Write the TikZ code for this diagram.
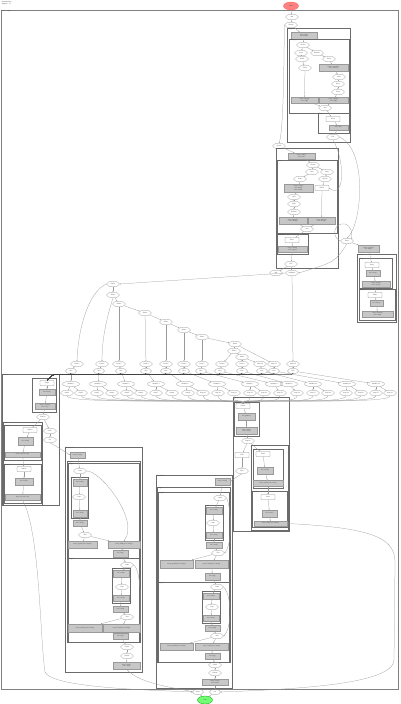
\documentclass[tikz,border=0pt]{standalone}
\usepackage{fontspec}
\setmainfont{Liberation Sans}
\usetikzlibrary{arrows.meta,shapes.geometric}
\newcommand\myGR[6]{\node[gr, minimum width={(#4-#2)*1pt}, minimum height={(#5-#3)*1pt}] (#1) at ({(#2+#4)/2},{(#3+#5)/2}) {#6};}
\newcommand\myBX[6]{\draw[cb] (#2,#3) rectangle (#4,#5); \node[blbl] (#1) at (#2,#3) {#6};}
\begin{document}
\begin{tikzpicture}[x=1pt,y=-1pt,
 base/.style={font=\fontsize{1.6}{1.8}\selectfont, text=black!70, inner sep=0pt, align=center},
 st/.style={base, ellipse, draw=black!45, line width=0.25pt, minimum width=13pt, minimum height=5.5pt},
 wst/.style={st, minimum width=17pt},
 rs/.style={base, rectangle, rounded corners=0.6pt, draw=black!45, line width=0.25pt, minimum width=14pt, minimum height=5pt},
 gr/.style={base, rectangle, fill=black!22, draw=black!40, line width=0.25pt},
 cb/.style={draw=black!58, line width=0.5pt},
 frame/.style={draw=black!50, line width=0.7pt},
 blbl/.style={base, anchor=north west, inner sep=0.6pt, align=left},
 ed/.style={draw=black!40, line width=0.25pt, -{Stealth[length=1.2pt,width=1pt]}},
]
\useasboundingbox (0,0) rectangle (400,704);
\fill[white] (0,0) rectangle (400,704);
\node[blbl] (ttl) at (1,0.5) {StateMachine\\diagram\quad v1};
\draw[frame] (1,10) rectangle (398,689);
\node[blbl] (outl) at (1,10) {Main\quad region};
% ---------- top
\node[base, ellipse, fill=red!50, draw=red!65, line width=0.3pt, minimum width=15pt, minimum height=8pt] (start) at (291,6) {Initial};
\node[st] (a1) at (292,17) {Idle};
\node[st] (a2) at (291,25) {Ready};
\myBX{B1}{287}{28}{350}{142}{Setup}
\myGR{g1}{291}{32}{317}{39}{entry / init()\\do / load()}
\myBX{B1i}{289}{39}{349}{113}{Config}
\node[st] (b1) at (303,45) {Choice};
\node[st] (b2) at (301,53) {Local};
\node[st] (b3) at (317,53) {Remote};
\node[st] (b4) at (302,59) {Read};
\node[st] (b5) at (329,59) {Fetch};
\node[st] (b6) at (305,68) {Parse};
\myGR{g2}{319}{64}{348}{71}{entry / connect()\\exit / close()}
\node[st] (b7) at (339,77) {Wait};
\node[st] (b8) at (338,84) {Recv};
\node[st] (b9) at (338,92) {Store};
\myGR{g3}{291}{97}{318}{103}{entry / apply()\\exit / log()}
\myGR{g4}{319}{97}{348}{103}{entry / apply()\\exit / log()}
\node[st] (b10) at (325,108) {Join};
\myBX{B1j}{318}{113}{349}{133}{Final}
\node[rs] (b11) at (333,119) {Done};
\myGR{g5}{329}{125}{348}{130}{exit / ok()}
\node[st] (b12) at (333,137) {Exit};
\node[st] (c0) at (279,146) {Check};
\draw[ed] (start) -- (a1);
\draw[ed] (a1) -- (a2);
\draw[ed] (a2) -- (g1);
\draw[ed] (g1) -- (b1);
\draw[ed] (b1) -- (b2);
\draw[ed] (b1) -- (b3);
\draw[ed] (b2) -- (b4);
\draw[ed] (b3) -- (b5);
\draw[ed] (b4) -- (b6);
\draw[ed] (b5) -- (g2);
\draw[ed] (g2) -- (b7);
\draw[ed] (b7) -- (b8);
\draw[ed] (b8) -- (b9);
\draw[ed] (b6) -- (g3);
\draw[ed] (b9) -- (g4);
\draw[ed] (g3) -- (b10);
\draw[ed] (g4) -- (b10);
\draw[ed] (b10) -- (b11);
\draw[ed] (b11) -- (g5);
\draw[ed] (g5) -- (b12);
\draw[ed] (a2.west) .. controls (284,45) and (284,130) .. (c0.north);
% ---------- second block
\myBX{B2}{276}{148}{338}{268}{Process}
\myGR{g6}{288}{153}{315}{159}{entry / start()\\do / run()}
\myBX{B2i}{277}{160}{337}{233}{Work}
\node[st] (d1) at (313,165) {Choice};
\node[st] (d2) at (312,172) {Fast};
\node[st] (d3) at (327,172) {Slow};
\node[st] (d4) at (300,179) {Scan};
\node[st] (d5) at (325,179) {Queue};
\myGR{g7}{284}{184}{313}{192}{entry / scan()\\do / step()\\exit / stop()}
\node[rs] (d6) at (322,188) {Batch};
\node[st] (d7) at (294,197) {Split};
\node[st] (d8) at (294,204) {Map};
\node[st] (d9) at (294,212) {Reduce};
\myGR{g8}{279}{217}{307}{224}{entry / merge()\\exit / flush()}
\myGR{g9}{308}{217}{335}{224}{entry / merge()\\exit / flush()}
\node[st] (d10) at (307,229) {Join};
\myBX{B2j}{277}{234}{308}{254}{Commit}
\node[rs] (d11) at (292,240) {Save};
\myGR{g10}{278}{246}{307}{252}{entry / write()\\exit / sync()}
\node[st] (d12) at (291,264) {Exit};
\node[st] (e1) at (347,241) {Error};
\myGR{g11}{358}{245}{379}{252}{entry / report()\\do / wait()}
\myBX{B3}{357}{254}{396}{322}{Recover}
\myBX{B3a}{359}{258}{392}{288}{Retry}
\node[rs] (f1) at (372,265) {Retry};
\myGR{g12}{366}{270}{380}{276}{do / retry()}
\myGR{g13}{362}{281}{390}{287}{entry / reset()\\exit / clear()}
\myBX{B3b}{359}{289}{395}{320}{Abort}
\node[rs] (f2) at (375,295) {Abort};
\myGR{g14}{370}{300}{383}{306}{do / abort()}
\myGR{g15}{362}{311}{393}{317}{entry / dump()\\exit / halt()}
\draw[ed] (c0) -- (g6);
\draw[ed] (g6) -- (d1);
\draw[ed] (d1) -- (d2);
\draw[ed] (d1) -- (d3);
\draw[ed] (d2) -- (d4);
\draw[ed] (d3) -- (d5);
\draw[ed] (d4) -- (g7);
\draw[ed] (d5) -- (d6);
\draw[ed] (g7) -- (d7);
\draw[ed] (d7) -- (d8);
\draw[ed] (d8) -- (d9);
\draw[ed] (d9) -- (g8);
\draw[ed] (d6) -- (g9);
\draw[ed] (g8) -- (d10);
\draw[ed] (g9) -- (d10);
\draw[ed] (d10) -- (d11);
\draw[ed] (d11) -- (g10);
\draw[ed] (g10) -- (d12);
\draw[ed] (b12.east) .. controls (368,150) and (362,225) .. (e1.north);
\draw[ed] (b12.south) .. controls (345,160) and (345,200) .. (d6.east);
\draw[ed] (e1.west) .. controls (330,236) and (335,222) .. (345,224) .. controls (352,226) and (352,234) .. (e1.north east);
\draw[ed] (e1) -- (g11);
\draw[ed] (g11) -- (f1);
\draw[ed] (f1) -- (g12);
\draw[ed] (g12) -- (g13);
\draw[ed] (g13) -- (f2);
\draw[ed] (f2) -- (g14);
\draw[ed] (g14) -- (g15);
% ---------- tree
\node[st] (h0) at (276,273) {Idle};
\node[st] (h1) at (292,273) {Dispatch};
\draw[ed] (d12) -- (h0);
\draw[ed] (d12) -- (h1);
\draw[ed] (e1.south) .. controls (335,262) .. (h1.east);
\node[st] (t1) at (113,284) {Route};
\node[st] (t2) at (113,295) {Select};
\node[st] (t3) at (119,304) {Select};
\node[st] (t4) at (145,313) {Select};
\node[st] (t5) at (166,322) {Select};
\node[st] (t6) at (184,330) {Select};
\node[st] (t7) at (202,337) {Select};
\node[st] (t8) at (235,344) {Select};
\node[st] (t9) at (234,351) {Select};
\node[st] (t10) at (242,357) {Select};
\draw[ed] (h1.west) -- (t1.east);
\draw[ed] (t1) -- (t2);
\draw[ed] (t2) -- (t3);
\draw[ed] (t3) -- (t4);
\draw[ed] (t4) -- (t5);
\draw[ed] (t5) -- (t6);
\draw[ed] (t6) -- (t7);
\draw[ed] (t7) -- (t8);
\draw[ed] (t8) -- (t9);
\draw[ed] (t9) -- (t10);
\foreach \x [count=\i] in {77,102,119,146,166,184,202,222,242,260,274,293}
  \node[st] (ra\i) at (\x,364) {Case \i};
\foreach \x [count=\i] in {71,99,121,146,166,184,201,220,242,262,274,293}
  \node[st, minimum width=11pt] (rb\i) at (\x,371) {Run};
\foreach \x [count=\i] in {71,98,126,156,185,217,250,274,289,313,347,376}
  \node[wst] (rc\i) at (\x,384) {Handler \i};
\foreach \x [count=\i] in {67,81,97,112,127,141,156,172,188,203,218,234,250,264,280,297,313,328,346,361,376,390}
  \node[st] (rd\i) at (\x,393) {Step \i};
\draw[ed] (t1.west) .. controls (88,292) and (78,330) .. (ra1.north);
\draw[ed] (t2.south) .. controls (106,320) and (102,340) .. (ra2.north);
\draw[ed] (t3) -- (ra3);
\draw[ed] (t4) -- (ra4);
\draw[ed] (t5) -- (ra5);
\draw[ed] (t6) -- (ra6);
\draw[ed] (t7) -- (ra7);
\draw[ed] (t9) -- (ra8);
\draw[ed] (t10) -- (ra9);
\draw[ed] (t10) -- (ra10);
\draw[ed] (t8) -- (ra11);
\draw[ed] (h1) -- (ra12);
\foreach \i in {1,...,12} \draw[ed] (ra\i) -- (rb\i);
\foreach \i in {1,...,12} \draw[ed] (rb\i) -- (rc\i);
\foreach \a/\b in {1/1,1/2,2/3,2/4,3/5,3/6,4/7,4/8,5/9,5/10,6/11,6/12,7/13,7/14,8/15,9/16,10/17,10/18,11/19,11/20,12/21,12/22}
  \draw[ed] (rc\a) -- (rd\b);
% ---------- left box
\myBX{L}{2}{374}{59}{505}{Service}
\myBX{L1}{32}{378}{56}{412}{Init}
\node[rs] (k1) at (47,383) {Begin};
\myGR{g16}{39}{389}{55}{395}{do / boot()}
\myGR{g17}{35}{403}{55}{409}{entry / check()\\exit / ok()}
\node[st] (k2) at (43,417) {Branch};
\myBX{L2}{3}{422}{42}{505}{Modes}
\myBX{L2a}{4}{425}{41}{460}{Mode A}
\node[rs] (k3) at (30,430) {Start A};
\myGR{g18}{18}{437}{33}{445}{do / runA()}
\myGR{g19}{5}{452}{40}{457}{entry / a() exit / b()}
\myBX{L2b}{4}{464}{41}{503}{Mode B}
\node[rs] (k4) at (24,469) {Start B};
\myGR{g20}{15}{478}{33}{485}{do / runB()}
\myGR{g21}{5}{494}{40}{500}{entry / c() exit / d()}
\node[st] (k5) at (50,431) {Next};
\node[st] (k6) at (50,440) {Go};
\foreach \i in {1,...,12}
  \draw[ed, draw=black!75, line width=0.35pt, rounded corners=1.5pt] (rb\i.south) |- (53,374.6) -- (k1.north);
\draw[ed] (k1) -- (g16);
\draw[ed] (g16) -- (g17);
\draw[ed] (g17) -- (k2);
\draw[ed] (k2) -- (k3);
\draw[ed] (k2) -- (k5);
\draw[ed] (k5) -- (k6);
\draw[ed] (k3) -- (g18);
\draw[ed] (g18) -- (g19);
\draw[ed] (g19) -- (k4);
\draw[ed] (k4) -- (g20);
\draw[ed] (g20) -- (g21);
% ---------- right-middle box
\myBX{R}{233}{397}{289}{531}{Output}
\myBX{R1}{234}{402}{259}{436}{Collect}
\node[rs] (m1) at (243,406) {Gather};
\myGR{g22}{238}{413}{255}{420}{do / gather()}
\myGR{g23}{236}{427}{257}{434}{entry / sort()\\exit / emit()}
\node[st] (m2) at (248,441) {Branch};
\node[rs] (m3) at (242,455) {Skip};
\node[st] (m4) at (242,471) {Pass};
\myBX{R2}{251}{445}{288}{530}{Emit}
\myBX{R2a}{253}{449}{283}{488}{Emit A}
\node[rs] (m5) at (263,454) {Send};
\myGR{g24}{257}{467}{273}{474}{do / send()}
\myGR{g25}{253}{480}{283}{486}{entry / pack() exit / ack()}
\myBX{R2b}{252}{491}{287}{527}{Emit B}
\node[rs] (m6) at (268,497) {Store};
\myGR{g26}{262}{510}{277}{517}{do / store()}
\myGR{g27}{254}{521}{287}{526}{entry / file() exit / done()}
\foreach \i in {1,...,22}
  \draw[ed] (rd\i.south) .. controls +(0,9) and +(0,-5) .. (m1.north);
\draw[ed] (m1) -- (g22);
\draw[ed] (g22) -- (g23);
\draw[ed] (g23) -- (m2);
\draw[ed] (m2) -- (m3);
\draw[ed] (m2) -- (m5);
\draw[ed] (m3) -- (m4);
\draw[ed] (m5) -- (g24);
\draw[ed] (g24) -- (g25);
\draw[ed] (g25) -- (m6);
\draw[ed] (m6) -- (g26);
\draw[ed] (g26) -- (g27);
% ---------- middle box 1
\myBX{M1}{65}{447}{142}{672}{Pipeline A}
\myGR{g28}{70}{452}{85}{458}{entry / prep()}
\myBX{M1i}{67}{461}{140}{642}{Stages}
\myBX{M1a}{68}{463}{139}{558}{Stage 1}
\node[st] (p1) at (80,471) {Load};
\myBX{M1ab}{71}{477}{88}{518}{Inner}
\myGR{g29}{73}{479}{87}{486}{do / read()}
\node[st] (p2) at (79,497) {Loop};
\myGR{g30}{73}{510}{87}{517}{do / next()}
\myGR{g31}{73}{520}{87}{526}{exit / end()}
\node[st] (p3) at (85,535) {Test};
\myGR{g32}{68}{541}{97}{548}{entry / good() exit / keep()}
\myGR{g33}{108}{541}{140}{548}{entry / bad() exit / drop()}
\myGR{g34}{113}{550}{128}{557}{do / log()}
\myBX{M1b}{68}{558}{139}{642}{Stage 2}
\node[st] (q1) at (127,565) {Load};
\myBX{M1bb}{112}{568}{130}{603}{Inner}
\myGR{g35}{113}{570}{129}{577}{do / read()}
\node[st] (q2) at (122,587) {Loop};
\myGR{g36}{113}{595}{129}{601}{do / next()}
\myGR{g37}{113}{606}{128}{612}{exit / end()}
\node[st] (q3) at (127,617) {Test};
\myGR{g38}{68}{624}{102}{632}{entry / good() exit / keep()}
\myGR{g39}{103}{624}{140}{632}{entry / bad() exit / drop()}
\myGR{g40}{113}{633}{128}{639}{do / log()}
\node[st] (q4) at (127,647) {Finish};
\node[st] (q5) at (127,656) {Report};
\myGR{g41}{113}{662}{140}{669}{entry / sum()\\exit / out()}
\draw[ed] (k6.south) .. controls (56,446) .. (g28.west);
\draw[ed] (g28) -- (p1);
\draw[ed] (p1) -- (g29);
\draw[ed] (g29) -- (p2);
\draw[ed] (p2) -- (g30);
\draw[ed] (g30) -- (g31);
\draw[ed] (g31) -- (p3);
\draw[ed] (p3) -- (g32);
\draw[ed] (p3) -- (g33);
\draw[ed] (g33) -- (g34);
\draw[ed] (g34) -- (q1);
\draw[ed] (p1.east) .. controls (100,470) and (140,520) .. (g33.north);
\draw[ed] (q1) -- (g35);
\draw[ed] (g35) -- (q2);
\draw[ed] (q2) -- (g36);
\draw[ed] (g36) -- (g37);
\draw[ed] (g37) -- (q3);
\draw[ed] (q3) -- (g38);
\draw[ed] (q3) -- (g39);
\draw[ed] (g39) -- (g40);
\draw[ed] (g40) -- (q4);
\draw[ed] (q4) -- (q5);
\draw[ed] (q5) -- (g41);
\draw[ed] (q1.east) .. controls (142,570) and (141,615) .. (g39.north east);
% ---------- middle box 2
\myBX{M2}{156}{475}{232}{688}{Pipeline B}
\myGR{g42}{215}{478}{230}{485}{entry / prep()}
\myBX{M2i}{157}{487}{230}{662}{Stages}
\myBX{M2a}{158}{492}{229}{582}{Stage 1}
\node[st] (u1) at (220,498) {Load};
\myBX{M2ab}{205}{505}{223}{540}{Inner}
\myGR{g43}{206}{507}{222}{514}{do / read()}
\node[st] (u2) at (213,523) {Loop};
\myGR{g44}{206}{532}{222}{538}{do / next()}
\myGR{g45}{206}{542}{222}{548}{exit / end()}
\node[st] (u3) at (218,553) {Test};
\myGR{g46}{160}{560}{193}{568}{entry / good() exit / keep()}
\myGR{g47}{195}{560}{228}{568}{entry / bad() exit / drop()}
\myGR{g48}{205}{573}{220}{580}{do / log()}
\myBX{M2b}{158}{582}{229}{662}{Stage 2}
\node[st] (v1) at (217,587) {Load};
\myBX{M2bb}{202}{591}{220}{623}{Inner}
\myGR{g49}{203}{593}{219}{599}{do / read()}
\node[st] (v2) at (212,607) {Loop};
\myGR{g50}{203}{615}{219}{621}{do / next()}
\myGR{g51}{205}{625}{220}{631}{exit / end()}
\node[st] (v3) at (217,636) {Test};
\myGR{g52}{160}{643}{193}{650}{entry / good() exit / keep()}
\myGR{g53}{195}{643}{228}{650}{entry / bad() exit / drop()}
\myGR{g54}{205}{653}{220}{659}{do / log()}
\node[st] (w1) at (215,665) {Finish};
\node[st] (w2) at (215,673) {Report};
\myGR{g55}{202}{679}{228}{685}{entry / sum()\\exit / out()}
\draw[ed] (m4.south) .. controls (238,476) .. (g42.east);
\draw[ed] (g42) -- (u1);
\draw[ed] (u1) -- (g43);
\draw[ed] (g43) -- (u2);
\draw[ed] (u2) -- (g44);
\draw[ed] (g44) -- (g45);
\draw[ed] (g45) -- (u3);
\draw[ed] (u3) -- (g46);
\draw[ed] (u3) -- (g47);
\draw[ed] (g47) -- (g48);
\draw[ed] (g48) -- (v1);
\draw[ed] (v1) -- (g49);
\draw[ed] (g49) -- (v2);
\draw[ed] (v2) -- (g50);
\draw[ed] (g50) -- (g51);
\draw[ed] (g51) -- (v3);
\draw[ed] (v3) -- (g52);
\draw[ed] (v3) -- (g53);
\draw[ed] (g53) -- (g54);
\draw[ed] (g54) -- (w1);
\draw[ed] (w1) -- (w2);
\draw[ed] (w2) -- (g55);
\draw[ed] (u1.east) .. controls (232,510) and (232,545) .. (u3.east);
\draw[ed] (v1.east) .. controls (232,595) and (232,628) .. (v3.east);
% ---------- end
\node[st, minimum width=11pt] (n1) at (198,692) {done};
\node[st, minimum width=11pt] (n2) at (215,692) {exit};
\node[base, ellipse, fill=green!55, draw=green!60!black, line width=0.3pt, minimum width=15pt, minimum height=8pt] (end) at (205,700) {Final};
\draw[ed] (g55) -- (n2);
\draw[ed] (g41.south) .. controls (140,685) and (180,688) .. (n1.west);
\draw[ed] (g21.south) .. controls (40,530) and (40,640) .. (45,672) .. controls (52,688) and (150,690) .. (n1.west);
\draw[ed] (g27.east) .. controls (380,528) and (396,540) .. (395,565) -- (394,660) .. controls (393,684) and (300,689) .. (n2.east);
\draw[ed] (n1) -- (end);
\draw[ed] (n2) -- (end);
\end{tikzpicture}
\end{document}
